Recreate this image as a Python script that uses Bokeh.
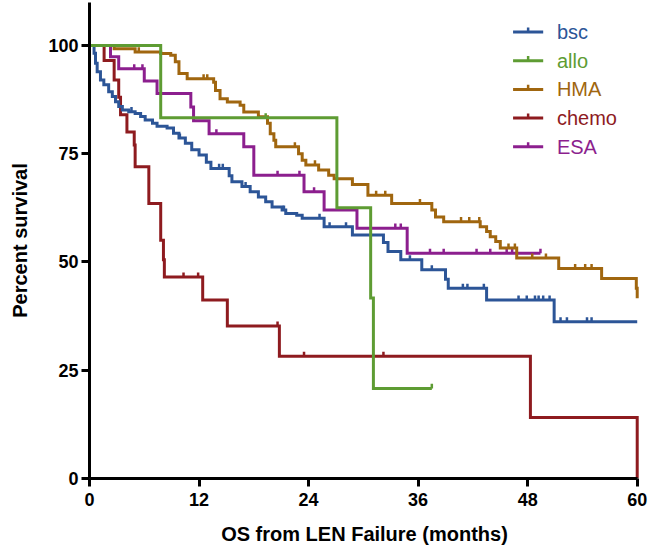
import numpy as np
from bokeh.plotting import figure
from bokeh.models import Range1d, FixedTicker
from bokeh.core.properties import value
from bokeh.embed import file_html
from bokeh.resources import INLINE

# Kaplan-Meier curves: event times (months) and survival (%)
bsc_t = [0, 0.5, 0.66, 0.84, 1.2, 1.57, 2.1, 2.5, 2.85, 3.2, 3.6, 4.3, 5.0, 5.6, 6.1,
         6.9, 7.4, 8.5, 9.2, 9.8, 10.5, 11.2, 12.0, 12.8, 13.3, 15.3, 15.6, 16.7, 17.6,
         18.5, 19.3, 20.0, 21.1, 21.5, 22.7, 23.3, 25.7, 28.8, 32.2, 32.7, 34.1, 36.4,
         39.0, 39.3, 43.5, 50.9, 60.0]
bsc_s = [100, 98.2, 95.9, 93.9, 92.0, 90.9, 89.3, 88.2, 87.0, 85.9, 85.1, 84.7, 84.3, 83.6, 82.8,
         82.0, 81.3, 80.9, 79.7, 78.6, 77.4, 75.9, 74.7, 73.0, 71.6, 69.9, 68.5, 67.4, 66.2,
         65.0, 63.9, 62.7, 62.0, 61.2, 60.8, 60.1, 58.1, 56.2, 54.5, 52.4, 50.5, 48.2,
         46.0, 43.9, 41.2, 36.2, 36.2]
bsc_cens = [4.6, 9.9, 14.2, 14.6, 17.1, 21.3, 25.2, 26.3, 28.1, 35.1, 37.5, 40.9, 41.4, 43.2,
            47.0, 47.9, 48.8, 49.2, 49.7, 50.4, 51.6, 52.3, 54.5, 55.0]

allo_t = [0, 7.8, 27.1, 30.8, 31.1, 37.5]
allo_s = [100, 83.3, 62.5, 41.7, 20.8, 20.8]
allo_cens = [19.3, 37.5]

hma_t = [0, 2.7, 5.0, 7.8, 8.9, 9.4, 9.8, 10.7, 13.6, 13.8, 14.3, 15.1, 16.5, 16.9, 18.5,
         19.5, 19.8, 20.2, 20.4, 22.9, 23.3, 23.7, 25.1, 26.2, 26.8, 28.8, 30.5, 33.1, 37.5,
         37.9, 38.8, 42.8, 43.5, 43.9, 44.5, 45.0, 46.8, 51.4, 56.1, 59.9, 60.0]
hma_s = [100, 99.2, 98.5, 98.1, 97.7, 96.2, 93.5, 92.3, 91.5, 89.6, 87.7, 86.9, 86.2, 84.6, 83.5,
         82.0, 79.6, 78.1, 76.6, 75.0, 73.5, 72.4, 71.2, 70.0, 69.2, 67.9, 65.4, 63.5, 62.0,
         60.4, 59.3, 58.1, 57.0, 55.8, 54.7, 53.2, 50.9, 48.5, 46.2, 43.9, 41.6]
hma_cens = [5.4, 12.5, 12.9, 22.5, 24.7, 31.4, 32.4, 36.2, 40.7, 41.6, 42.7, 45.9, 46.6,
            48.5, 50.0, 53.2, 54.3, 55.0]

chemo_t = [0, 1.6, 2.7, 3.2, 3.4, 4.1, 4.9, 5.0, 6.5, 7.8, 8.1, 8.2, 12.4, 15.1, 20.8, 48.3, 60.0]
chemo_s = [100, 96.5, 92.0, 88.0, 84.0, 80.0, 77.0, 72.0, 63.5, 55.0, 50.5, 46.5, 41.2, 35.2, 28.2, 14.1, 0]
chemo_cens = [10.3, 11.9, 20.6, 23.5, 32.2]

esa_t = [0, 2.3, 3.2, 6.0, 7.4, 11.1, 11.4, 13.1, 16.9, 18.0, 23.5, 25.7, 29.3, 34.8, 49.4]
esa_s = [100, 97.4, 94.6, 91.8, 88.9, 85.8, 82.6, 79.6, 76.6, 70.0, 66.2, 62.0, 57.8, 52.0, 52.0]
esa_cens = [4.9, 5.8, 13.9, 20.6, 23.0, 24.6, 33.5, 34.1, 37.3, 38.8, 42.4, 43.9, 45.7, 46.3, 49.4]

names = ["bsc", "allo", "HMA", "chemo", "ESA"]
colors = ["#2c5597", "#5e9c33", "#a0660f", "#8e1b1f", "#8c1f8e"]
x_ticks = [0, 12, 24, 36, 48, 60]
y_ticks = [0, 25, 50, 75, 100]

curves = {
    "bsc": (bsc_t, bsc_s, bsc_cens),
    "allo": (allo_t, allo_s, allo_cens),
    "HMA": (hma_t, hma_s, hma_cens),
    "chemo": (chemo_t, chemo_s, chemo_cens),
    "ESA": (esa_t, esa_s, esa_cens),
}


def surv_at(t, s, tc):
    idx = np.searchsorted(np.array(t), np.array(tc), side="right") - 1
    return np.array(s)[idx]


p = figure(width=650, height=547, output_backend="svg", toolbar_location=None,
           x_range=Range1d(0, 60.25), y_range=Range1d(0, 109.9),
           min_border_left=89, min_border_right=11, min_border_top=2, min_border_bottom=68,
           x_axis_label="OS from LEN Failure (months)", y_axis_label="Percent survival")
p.outline_line_color = None
p.xgrid.visible = False
p.ygrid.visible = False
p.background_fill_color = "white"

font = "Liberation Sans"
for ax in (p.xaxis[0], p.yaxis[0]):
    ax.axis_line_width = 3
    ax.major_tick_line_width = 3
    ax.major_tick_in = 0
    ax.major_tick_out = 8
    ax.minor_tick_line_color = None
    ax.major_label_text_font = font
    ax.major_label_text_font_style = "bold"
    ax.major_label_text_font_size = "18px"
    ax.major_label_text_color = "black"
    ax.axis_label_text_font = font
    ax.axis_label_text_font_style = "bold"
    ax.axis_label_text_font_size = "20px"
    ax.axis_label_text_color = "black"
p.xaxis.ticker = FixedTicker(ticks=x_ticks)
p.yaxis.ticker = FixedTicker(ticks=y_ticks)
p.xaxis.bounds = (0, 60)
p.xaxis.major_label_standoff = 6
p.yaxis.major_label_standoff = 3
p.xaxis.axis_label_standoff = 14
p.yaxis.axis_label_standoff = 14

order = ["chemo", "bsc", "ESA", "HMA", "allo"]
for name in order:
    color = colors[names.index(name)]
    t, s, cens = curves[name]
    p.step(t, s, mode="after", line_color=color, line_width=3, line_join="miter")
    cy = surv_at(t, s, cens)
    p.segment(x0=cens, y0=cy, x1=cens, y1=cy + 1.05, line_color=color, line_width=2.5)

# legend
leg_x0, leg_x1, leg_tx = 46.4, 49.7, 51.2
leg_y0, leg_dy = 103.1, 6.63
for i, name in enumerate(names):
    color = colors[i]
    yy = leg_y0 - i * leg_dy
    p.segment(x0=[leg_x0], y0=[yy], x1=[leg_x1], y1=[yy], line_color=color, line_width=3)
    mid = (leg_x0 + leg_x1) / 2
    p.segment(x0=[mid], y0=[yy], x1=[mid], y1=[yy + 1.05], line_color=color, line_width=2.5)
    p.text(x=[leg_tx], y=[yy], text=[name], text_color=color, text_font=value(font),
           text_font_size="20px", text_baseline="middle", text_align="left")

open("out.html", "w").write(file_html(p, INLINE))
